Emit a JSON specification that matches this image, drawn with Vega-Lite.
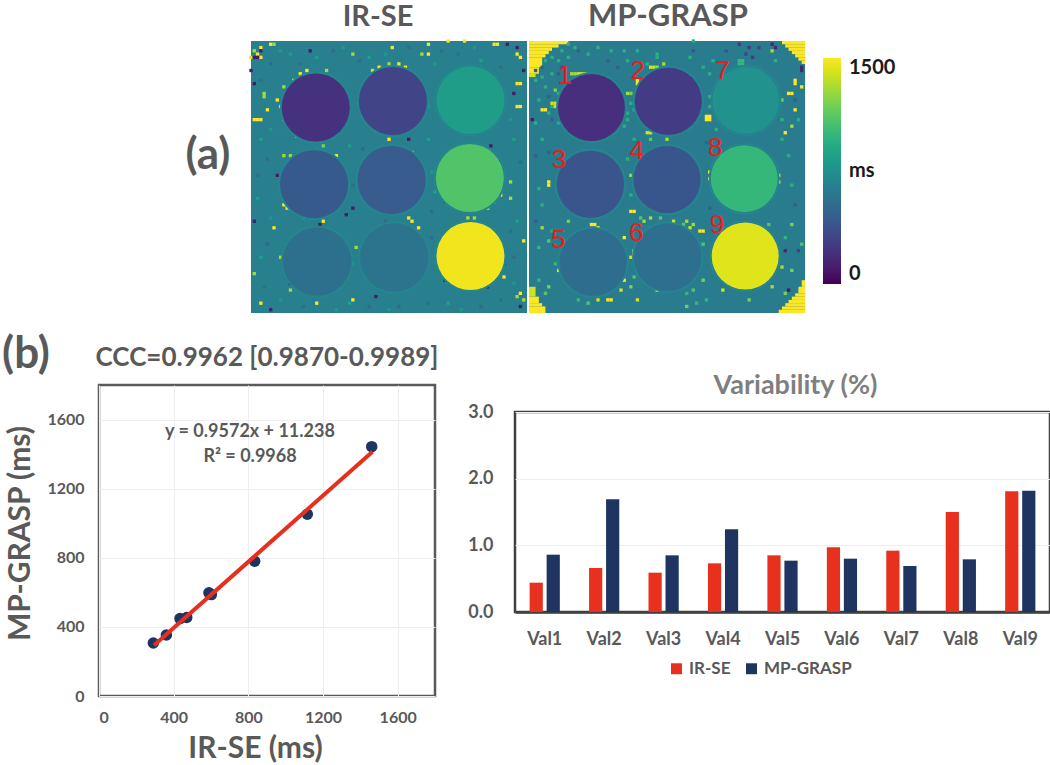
{"$schema":"https://vega.github.io/schema/vega-lite/v6.json","padding":{"left":0,"top":1,"right":0,"bottom":0},"background":"white","config":{"font":"Lato","view":{"stroke":null},"axis":{"labelFontWeight":"bold","labelColor":"#595959","titleColor":"#595959","ticks":false,"titleFontWeight":"bold"},"title":{"font":"Lato","fontWeight":"bold","color":"#595959"}},"spacing":18,"resolve":{"scale":{"color":"independent"}},"vconcat":[{"hconcat":[{"width":148,"height":272,"view":{"fill":"white"},"data":{"values":[{"t":"(a)"}]},"mark":{"type":"text","fontSize":44,"fontWeight":"bold","color":"#595959","dx":35,"dy":-21},"encoding":{"text":{"field":"t"}}},{"width":276,"height":272,"title":{"text":"IR-SE","fontSize":29,"dx":-11,"offset":7},"encoding":{"x":{"field":"c","type":"quantitative","scale":{"domain":[0,84]},"axis":null},"y":{"field":"r","type":"quantitative","scale":{"domain":[0,83],"reverse":true},"axis":null},"color":{"field":"v","type":"quantitative","scale":{"scheme":"viridis","domain":[0,1500]},"legend":null}},"layer":[{"data":{"values":[{"c":0,"c2":84,"r":0,"r2":83,"v":640}]},"mark":"rect","encoding":{"x2":{"field":"c2"},"y2":{"field":"r2"}}},{"data":{"values":[{"c":3,"r":2,"v":1500},{"c":6,"r":1,"v":1500},{"c":2,"r":4,"v":1500},{"c":3,"r":5,"v":1500},{"c":0,"r":5,"v":1400},{"c":7,"r":1,"v":1300},{"c":1,"r":3,"v":1300},{"c":2,"r":5,"v":100},{"c":1,"r":5,"v":100},{"c":3,"r":3,"v":100},{"c":0,"r":9,"v":100},{"c":18,"r":3,"v":100},{"c":1,"r":13,"v":100},{"c":74,"r":1,"v":1500},{"c":75,"r":1,"v":1500},{"c":78,"r":1,"v":100},{"c":81,"r":4,"v":1500},{"c":82,"r":5,"v":1500},{"c":81,"r":13,"v":1500},{"c":82,"r":13,"v":1500},{"c":82,"r":20,"v":1500},{"c":81,"r":20,"v":1500},{"c":81,"r":2,"v":100},{"c":83,"r":9,"v":100},{"c":80,"r":16,"v":100},{"c":1,"r":24,"v":1500},{"c":2,"r":24,"v":1500},{"c":3,"r":24,"v":1500},{"c":4,"r":16,"v":1300},{"c":4,"r":17,"v":1300},{"c":8,"r":18,"v":1500},{"c":9,"r":20,"v":1500},{"c":5,"r":21,"v":1500},{"c":31,"r":4,"v":1300},{"c":43,"r":2,"v":1500},{"c":52,"r":4,"v":1300},{"c":54,"r":1,"v":1500},{"c":54,"r":4,"v":1500},{"c":60,"r":0,"v":1500},{"c":65,"r":0,"v":1500},{"c":15,"r":10,"v":1500},{"c":17,"r":9,"v":1500},{"c":13,"r":12,"v":1400},{"c":10,"r":14,"v":1300},{"c":10,"r":24,"v":1400},{"c":14,"r":29,"v":1500},{"c":17,"r":30,"v":1500},{"c":25,"r":29,"v":1500},{"c":23,"r":9,"v":1300},{"c":37,"r":9,"v":1400},{"c":39,"r":8,"v":1500},{"c":42,"r":7,"v":1300},{"c":45,"r":7,"v":1500},{"c":47,"r":8,"v":1500},{"c":33,"r":19,"v":1500},{"c":34,"r":23,"v":1500},{"c":38,"r":27,"v":1500},{"c":42,"r":30,"v":1500},{"c":48,"r":30,"v":100},{"c":49,"r":34,"v":1500},{"c":10,"r":35,"v":1300},{"c":12,"r":35,"v":1300},{"c":26,"r":35,"v":1500},{"c":22,"r":32,"v":1200},{"c":8,"r":41,"v":100},{"c":9,"r":44,"v":1300},{"c":10,"r":50,"v":1500},{"c":11,"r":51,"v":1500},{"c":13,"r":52,"v":100},{"c":22,"r":55,"v":1500},{"c":21,"r":56,"v":100},{"c":31,"r":51,"v":100},{"c":29,"r":53,"v":100},{"c":28,"r":61,"v":100},{"c":32,"r":63,"v":1300},{"c":48,"r":54,"v":1500},{"c":49,"r":55,"v":1500},{"c":51,"r":57,"v":1500},{"c":51,"r":59,"v":1500},{"c":73,"r":32,"v":100},{"c":75,"r":37,"v":1500},{"c":76,"r":38,"v":1500},{"c":76,"r":44,"v":1500},{"c":76,"r":47,"v":1500},{"c":74,"r":49,"v":1500},{"c":72,"r":51,"v":1500},{"c":79,"r":43,"v":1300},{"c":79,"r":48,"v":1300},{"c":59,"r":49,"v":100},{"c":66,"r":54,"v":1300},{"c":68,"r":54,"v":1300},{"c":83,"r":61,"v":1500},{"c":77,"r":68,"v":100},{"c":77,"r":72,"v":1500},{"c":72,"r":75,"v":100},{"c":59,"r":73,"v":100},{"c":51,"r":72,"v":1500},{"c":51,"r":71,"v":100},{"c":20,"r":80,"v":1500},{"c":31,"r":79,"v":1500},{"c":38,"r":78,"v":100},{"c":12,"r":74,"v":100},{"c":12,"r":76,"v":1300},{"c":9,"r":66,"v":1300},{"c":10,"r":68,"v":1300},{"c":1,"r":71,"v":1300},{"c":3,"r":80,"v":1500},{"c":6,"r":82,"v":100},{"c":82,"r":77,"v":1500},{"c":81,"r":78,"v":1300},{"c":83,"r":79,"v":1300},{"c":82,"r":81,"v":100},{"c":7,"r":57,"v":1500},{"c":1,"r":55,"v":100},{"c":20,"r":5,"v":850},{"c":25,"r":3,"v":520},{"c":36,"r":5,"v":850},{"c":58,"r":3,"v":520},{"c":70,"r":6,"v":850},{"c":12,"r":4,"v":850},{"c":6,"r":7,"v":520},{"c":3,"r":30,"v":850},{"c":5,"r":36,"v":520},{"c":2,"r":48,"v":850},{"c":5,"r":62,"v":520},{"c":3,"r":66,"v":850},{"c":30,"r":32,"v":850},{"c":34,"r":33,"v":520},{"c":54,"r":30,"v":850},{"c":56,"r":46,"v":850},{"c":55,"r":52,"v":520},{"c":80,"r":30,"v":850},{"c":82,"r":37,"v":520},{"c":81,"r":55,"v":850},{"c":80,"r":66,"v":520},{"c":30,"r":80,"v":850},{"c":45,"r":81,"v":520},{"c":60,"r":80,"v":850},{"c":70,"r":81,"v":520},{"c":9,"r":3,"v":820},{"c":15,"r":7,"v":530},{"c":28,"r":2,"v":800},{"c":33,"r":6,"v":540},{"c":41,"r":4,"v":800},{"c":48,"r":2,"v":530},{"c":56,"r":7,"v":820},{"c":63,"r":4,"v":540},{"c":68,"r":2,"v":800},{"c":76,"r":8,"v":530},{"c":79,"r":24,"v":800},{"c":3,"r":12,"v":540},{"c":6,"r":27,"v":800},{"c":2,"r":41,"v":530},{"c":6,"r":54,"v":800},{"c":4,"r":75,"v":530},{"c":9,"r":79,"v":800},{"c":16,"r":81,"v":530},{"c":26,"r":82,"v":800},{"c":36,"r":81,"v":530},{"c":42,"r":82,"v":800},{"c":54,"r":80,"v":530},{"c":64,"r":82,"v":800},{"c":76,"r":79,"v":530},{"c":80,"r":74,"v":800},{"c":79,"r":58,"v":530},{"c":55,"r":40,"v":800},{"c":54,"r":20,"v":800},{"c":31,"r":44,"v":530},{"c":31,"r":68,"v":800},{"c":55,"r":60,"v":530},{"c":20,"r":33,"v":800},{"c":41,"r":55,"v":530},{"c":16,"r":54,"v":800}]},"mark":{"type":"square","size":11,"opacity":1}},{"data":{"values":[{"c":19.7,"r":20.3,"v":720},{"c":43.2,"r":18.3,"v":720},{"c":66.8,"r":18.1,"v":720},{"c":19.2,"r":43.7,"v":720},{"c":42.8,"r":42.4,"v":720},{"c":66.6,"r":41.8,"v":720},{"c":20.1,"r":67.3,"v":720},{"c":43.6,"r":66.1,"v":720},{"c":66.8,"r":65.6,"v":720}]},"mark":{"type":"point","shape":"circle","filled":true,"size":5184,"opacity":1}},{"data":{"values":[{"c":19.7,"r":20.3,"v":640},{"c":43.2,"r":18.3,"v":640},{"c":66.8,"r":18.1,"v":640},{"c":19.2,"r":43.7,"v":640},{"c":42.8,"r":42.4,"v":640},{"c":66.6,"r":41.8,"v":640},{"c":20.1,"r":67.3,"v":640},{"c":43.6,"r":66.1,"v":640},{"c":66.8,"r":65.6,"v":640}]},"mark":{"type":"point","shape":"circle","filled":true,"size":4900,"opacity":1}},{"data":{"values":[{"c":19.7,"r":20.3,"v":210},{"c":43.2,"r":18.3,"v":300},{"c":66.8,"r":18.1,"v":830},{"c":19.2,"r":43.7,"v":420},{"c":42.8,"r":42.4,"v":430},{"c":66.6,"r":41.8,"v":1090},{"c":20.1,"r":67.3,"v":550},{"c":43.6,"r":66.1,"v":570},{"c":66.8,"r":65.6,"v":1470}]},"mark":{"type":"point","shape":"circle","filled":true,"size":4624,"opacity":1}}]},{"width":276,"height":272,"title":{"text":"MP-GRASP","fontSize":31,"dx":1,"offset":6},"encoding":{"x":{"field":"c","type":"quantitative","scale":{"domain":[0,84]},"axis":null},"y":{"field":"r","type":"quantitative","scale":{"domain":[0,83],"reverse":true},"axis":null},"color":{"field":"v","type":"quantitative","scale":{"scheme":"viridis","domain":[0,1500]},"legend":{"type":"gradient","title":null,"orient":"none","legendX":294,"legendY":17,"gradientLength":226,"gradientThickness":18,"gradientStrokeWidth":0,"values":[0,750,1500],"labelExpr":"datum.value==750?'ms':format(datum.value,'d')","labelFontSize":20,"labelFontWeight":"bold","labelColor":"#1a1a1a","labelFont":"Lato","labelOffset":8}}},"layer":[{"data":{"values":[{"c":0,"c2":84,"r":0,"r2":83,"v":620},{"c":0,"c2":12,"r":0,"r2":1,"v":1500},{"c":0,"c2":9,"r":1,"r2":2,"v":1500},{"c":0,"c2":7,"r":2,"r2":3,"v":1500},{"c":0,"c2":6,"r":3,"r2":4,"v":1500},{"c":0,"c2":5,"r":4,"r2":5,"v":1500},{"c":0,"c2":4,"r":5,"r2":8,"v":1500},{"c":0,"c2":3,"r":8,"r2":10,"v":1500},{"c":0,"c2":2,"r":10,"r2":11,"v":1400},{"c":77,"c2":84,"r":0,"r2":1,"v":1500},{"c":78,"c2":84,"r":1,"r2":2,"v":1500},{"c":79,"c2":84,"r":2,"r2":3,"v":1500},{"c":80,"c2":84,"r":3,"r2":4,"v":1500},{"c":81,"c2":84,"r":4,"r2":5,"v":1500},{"c":82,"c2":84,"r":5,"r2":6,"v":1500},{"c":83,"c2":84,"r":6,"r2":7,"v":1500},{"c":76,"c2":84,"r":82,"r2":83,"v":1500},{"c":77,"c2":84,"r":81,"r2":82,"v":1500},{"c":78,"c2":84,"r":80,"r2":81,"v":1500},{"c":79,"c2":84,"r":79,"r2":80,"v":1500},{"c":80,"c2":84,"r":78,"r2":79,"v":1500},{"c":81,"c2":84,"r":77,"r2":78,"v":1500},{"c":82,"c2":84,"r":75,"r2":77,"v":1500},{"c":83,"c2":84,"r":73,"r2":75,"v":1500},{"c":0,"c2":5,"r":81,"r2":83,"v":1500},{"c":0,"c2":4,"r":80,"r2":81,"v":1500},{"c":0,"c2":3,"r":78,"r2":80,"v":1500},{"c":0,"c2":2,"r":75,"r2":78,"v":1400}]},"mark":"rect","encoding":{"x2":{"field":"c2"},"y2":{"field":"r2"}}},{"data":{"values":[{"c":12,"r":1,"v":950},{"c":14,"r":2,"v":950},{"c":10,"r":3,"v":950},{"c":7,"r":5,"v":950},{"c":5,"r":6,"v":950},{"c":9,"r":6,"v":950},{"c":12,"r":5,"v":950},{"c":18,"r":4,"v":950},{"c":21,"r":2,"v":950},{"c":25,"r":3,"v":950},{"c":29,"r":3,"v":950},{"c":33,"r":3,"v":950},{"c":39,"r":4,"v":950},{"c":39,"r":5,"v":950},{"c":36,"r":7,"v":950},{"c":30,"r":6,"v":950},{"c":4,"r":11,"v":950},{"c":7,"r":10,"v":950},{"c":2,"r":12,"v":950},{"c":5,"r":14,"v":950},{"c":9,"r":16,"v":950},{"c":3,"r":18,"v":950},{"c":7,"r":20,"v":950},{"c":6,"r":22,"v":950},{"c":9,"r":25,"v":950},{"c":2,"r":25,"v":950},{"c":30,"r":22,"v":950},{"c":31,"r":19,"v":950},{"c":30,"r":24,"v":950},{"c":32,"r":21,"v":950},{"c":29,"r":26,"v":950},{"c":13,"r":10,"v":1300},{"c":14,"r":10,"v":1300},{"c":15,"r":10,"v":1400},{"c":16,"r":10,"v":1400},{"c":17,"r":10,"v":1400},{"c":8,"r":15,"v":1200},{"c":7,"r":19,"v":1400},{"c":8,"r":19,"v":1400},{"c":8,"r":20,"v":1400},{"c":4,"r":21,"v":1500},{"c":5,"r":21,"v":1500},{"c":30,"r":16,"v":1300},{"c":31,"r":16,"v":1200},{"c":33,"r":12,"v":1500},{"c":37,"r":8,"v":1400},{"c":38,"r":8,"v":1400},{"c":39,"r":8,"v":1300},{"c":41,"r":7,"v":1300},{"c":33,"r":13,"v":1500},{"c":36,"r":28,"v":1400},{"c":37,"r":28,"v":1400},{"c":2,"r":9,"v":450},{"c":9,"r":10,"v":450},{"c":4,"r":8,"v":450},{"c":15,"r":3,"v":450},{"c":24,"r":6,"v":450},{"c":27,"r":8,"v":450},{"c":10,"r":8,"v":450},{"c":6,"r":17,"v":450},{"c":7,"r":24,"v":450},{"c":27,"r":26,"v":450},{"c":23,"r":28,"v":450},{"c":1,"r":24,"v":100},{"c":54,"r":23,"v":1500},{"c":55,"r":23,"v":1500},{"c":54,"r":24,"v":1500},{"c":55,"r":24,"v":1500},{"c":81,"r":12,"v":1500},{"c":81,"r":13,"v":1500},{"c":80,"r":16,"v":1500},{"c":79,"r":16,"v":1500},{"c":77,"r":18,"v":1200},{"c":81,"r":21,"v":1500},{"c":80,"r":26,"v":1300},{"c":78,"r":28,"v":1500},{"c":83,"r":14,"v":1500},{"c":74,"r":3,"v":1300},{"c":64,"r":7,"v":1000},{"c":65,"r":7,"v":1000},{"c":64,"r":6,"v":1000},{"c":65,"r":6,"v":1000},{"c":53,"r":8,"v":950},{"c":55,"r":10,"v":950},{"c":56,"r":6,"v":950},{"c":50,"r":0,"v":950},{"c":49,"r":5,"v":950},{"c":55,"r":17,"v":950},{"c":55,"r":20,"v":950},{"c":57,"r":27,"v":950},{"c":74,"r":24,"v":950},{"c":77,"r":24,"v":950},{"c":82,"r":24,"v":950},{"c":75,"r":6,"v":950},{"c":67,"r":2,"v":250},{"c":64,"r":1,"v":250},{"c":68,"r":5,"v":250},{"c":74,"r":1,"v":150},{"c":75,"r":2,"v":150},{"c":66,"r":4,"v":300},{"c":70,"r":2,"v":300},{"c":83,"r":8,"v":150},{"c":83,"r":9,"v":150},{"c":60,"r":3,"v":400},{"c":50,"r":3,"v":400},{"c":51,"r":13,"v":450},{"c":81,"r":18,"v":450},{"c":20,"r":56,"v":1500},{"c":21,"r":57,"v":1500},{"c":19,"r":56,"v":1500},{"c":29,"r":60,"v":1500},{"c":32,"r":65,"v":1500},{"c":32,"r":64,"v":1500},{"c":31,"r":66,"v":1400},{"c":4,"r":57,"v":1300},{"c":12,"r":55,"v":1200},{"c":9,"r":70,"v":1400},{"c":29,"r":73,"v":1500},{"c":24,"r":79,"v":1500},{"c":25,"r":79,"v":1500},{"c":21,"r":79,"v":1400},{"c":3,"r":73,"v":1000},{"c":6,"r":75,"v":1200},{"c":5,"r":77,"v":1100},{"c":28,"r":76,"v":1400},{"c":31,"r":75,"v":1200},{"c":32,"r":72,"v":1100},{"c":33,"r":79,"v":1400},{"c":39,"r":76,"v":1400},{"c":18,"r":80,"v":1100},{"c":40,"r":54,"v":1100},{"c":35,"r":55,"v":1300},{"c":34,"r":54,"v":1100},{"c":37,"r":54,"v":1300},{"c":3,"r":63,"v":1000},{"c":6,"r":61,"v":1100},{"c":8,"r":68,"v":1000},{"c":7,"r":58,"v":950},{"c":15,"r":79,"v":1000},{"c":53,"r":58,"v":1500},{"c":52,"r":58,"v":1500},{"c":44,"r":55,"v":1400},{"c":50,"r":56,"v":1300},{"c":49,"r":57,"v":1400},{"c":47,"r":56,"v":1100},{"c":48,"r":55,"v":1300},{"c":80,"r":56,"v":1200},{"c":77,"r":69,"v":1300},{"c":80,"r":70,"v":1200},{"c":74,"r":75,"v":1300},{"c":59,"r":76,"v":1400},{"c":53,"r":73,"v":1200},{"c":53,"r":62,"v":1100},{"c":50,"r":76,"v":1100},{"c":48,"r":77,"v":1000},{"c":67,"r":79,"v":1200},{"c":78,"r":77,"v":1200},{"c":79,"r":76,"v":100},{"c":54,"r":79,"v":1000},{"c":51,"r":80,"v":1000},{"c":48,"r":81,"v":1200},{"c":73,"r":56,"v":1100},{"c":78,"r":60,"v":1000},{"c":83,"r":62,"v":1100},{"c":78,"r":64,"v":150},{"c":82,"r":64,"v":300},{"c":6,"r":44,"v":1500},{"c":6,"r":43,"v":1500},{"c":55,"r":40,"v":1500},{"c":55,"r":42,"v":1500},{"c":76,"r":41,"v":1500},{"c":76,"r":43,"v":1500},{"c":31,"r":52,"v":1500},{"c":32,"r":52,"v":1500},{"c":31,"r":41,"v":1300},{"c":42,"r":30,"v":1300},{"c":37,"r":30,"v":1100},{"c":32,"r":30,"v":950},{"c":4,"r":30,"v":950},{"c":2,"r":35,"v":450},{"c":4,"r":50,"v":950},{"c":2,"r":55,"v":450},{"c":79,"r":35,"v":950},{"c":77,"r":30,"v":950},{"c":81,"r":50,"v":450},{"c":80,"r":44,"v":950},{"c":54,"r":31,"v":450},{"c":55,"r":51,"v":450},{"c":6,"r":34,"v":450},{"c":3,"r":45,"v":950},{"c":30,"r":36,"v":950},{"c":31,"r":47,"v":950}]},"mark":{"type":"square","size":11,"opacity":1}},{"data":{"values":[{"c":19,"r":20.3,"v":720},{"c":42.4,"r":18.4,"v":720},{"c":66,"r":18.1,"v":720},{"c":18.7,"r":43.7,"v":720},{"c":42,"r":42.3,"v":720},{"c":65.5,"r":42,"v":720},{"c":19.5,"r":67.5,"v":720},{"c":42.2,"r":66,"v":720},{"c":65.8,"r":65.6,"v":720}]},"mark":{"type":"point","shape":"circle","filled":true,"size":5041,"opacity":1}},{"data":{"values":[{"c":19,"r":20.3,"v":620},{"c":42.4,"r":18.4,"v":620},{"c":66,"r":18.1,"v":620},{"c":18.7,"r":43.7,"v":620},{"c":42,"r":42.3,"v":620},{"c":65.5,"r":42,"v":620},{"c":19.5,"r":67.5,"v":620},{"c":42.2,"r":66,"v":620},{"c":65.8,"r":65.6,"v":620}]},"mark":{"type":"point","shape":"circle","filled":true,"size":4761,"opacity":1}},{"data":{"values":[{"c":19,"r":20.3,"v":200},{"c":42.4,"r":18.4,"v":260},{"c":66,"r":18.1,"v":760},{"c":18.7,"r":43.7,"v":390},{"c":42,"r":42.3,"v":400},{"c":65.5,"r":42,"v":1000},{"c":19.5,"r":67.5,"v":530},{"c":42.2,"r":66,"v":540},{"c":65.8,"r":65.6,"v":1430}]},"mark":{"type":"point","shape":"circle","filled":true,"size":4489,"opacity":1}},{"data":{"values":[{"c":10.9,"r":10.6,"t":"1"},{"c":33.1,"r":9.1,"t":"2"},{"c":58.9,"r":9.1,"t":"7"},{"c":9.1,"r":36.3,"t":"3"},{"c":32.8,"r":33.7,"t":"4"},{"c":56.7,"r":32.5,"t":"8"},{"c":8.9,"r":60.6,"t":"5"},{"c":32.6,"r":58.6,"t":"6"},{"c":57.2,"r":56,"t":"9"}]},"mark":{"type":"text","font":"Liberation Sans","fontSize":26,"color":"#ee1c1c"},"encoding":{"text":{"field":"t"},"color":{"value":"#ee1c1c"}}}]}],"spacing":2,"resolve":{"scale":{"color":"independent"}}},{"hconcat":[{"width":336,"height":311,"view":{"stroke":"#595959","strokeWidth":2.5},"encoding":{"x":{"field":"a","type":"quantitative","scale":{"domain":[0,1800]},"axis":{"title":"IR-SE (ms)","values":[0,400,800,1200,1600],"format":"d","labelFontSize":16,"labelPadding":13,"titleFontSize":30,"titlePadding":8,"titleX":156,"grid":true,"gridColor":"#eeeeee","domain":false}},"y":{"field":"b","type":"quantitative","scale":{"domain":[0,1800]},"axis":{"title":"MP-GRASP (ms)","values":[0,400,800,1200,1600],"format":"d","labelFontSize":16,"labelPadding":15,"titleFontSize":30,"titlePadding":11,"titleY":148,"grid":true,"gridColor":"#eeeeee","domain":false}}},"layer":[{"data":{"values":[{"a":291,"b":307},{"a":361,"b":353},{"a":434,"b":448},{"a":470,"b":454},{"a":589,"b":597},{"a":602,"b":587},{"a":834,"b":780},{"a":1116,"b":1052},{"a":1461,"b":1443}]},"mark":{"type":"point","shape":"circle","filled":true,"size":132,"color":"#1f3460","opacity":1}},{"data":{"values":[{"a":295,"b":293.6},{"a":1465,"b":1413.6}]},"mark":{"type":"line","color":"#e5301f","strokeWidth":4}},{"data":{"values":[{"a":809,"b":1528,"t":"y = 0.9572x + 11.238"},{"a":809,"b":1383,"t":"R² = 0.9968"}]},"mark":{"type":"text","fontSize":18,"fontWeight":"bold","color":"#595959"},"encoding":{"text":{"field":"t"}}},{"data":{"values":[{"t":"(b)"}]},"mark":{"type":"text","fontSize":44,"fontWeight":"bold","color":"#595959"},"encoding":{"text":{"field":"t"},"x":{"value":-73},"y":{"value":-30}}},{"data":{"values":[{"t":"CCC=0.9962 [0.9870-0.9989]"}]},"mark":{"type":"text","fontSize":26,"fontWeight":"bold","color":"#595959"},"encoding":{"text":{"field":"t"},"x":{"value":168},"y":{"value":-27}}}]},{"vconcat":[{"width":535,"height":13,"view":{"fill":"white"},"data":{"values":[{"t":"Variability (%)"}]},"mark":{"type":"text","fontSize":27,"fontWeight":"bold","color":"#7f7f7f","dx":13,"dy":-6},"encoding":{"text":{"field":"t"}}},{"width":535,"height":200,"view":{"stroke":"#404040","strokeWidth":2.5},"data":{"values":[{"k":"Val1","s":"IR-SE","p":0.44},{"k":"Val1","s":"MP-GRASP","p":0.86},{"k":"Val2","s":"IR-SE","p":0.66},{"k":"Val2","s":"MP-GRASP","p":1.69},{"k":"Val3","s":"IR-SE","p":0.59},{"k":"Val3","s":"MP-GRASP","p":0.85},{"k":"Val4","s":"IR-SE","p":0.73},{"k":"Val4","s":"MP-GRASP","p":1.24},{"k":"Val5","s":"IR-SE","p":0.85},{"k":"Val5","s":"MP-GRASP","p":0.77},{"k":"Val6","s":"IR-SE","p":0.97},{"k":"Val6","s":"MP-GRASP","p":0.8},{"k":"Val7","s":"IR-SE","p":0.92},{"k":"Val7","s":"MP-GRASP","p":0.69},{"k":"Val8","s":"IR-SE","p":1.5},{"k":"Val8","s":"MP-GRASP","p":0.79},{"k":"Val9","s":"IR-SE","p":1.81},{"k":"Val9","s":"MP-GRASP","p":1.82}]},"mark":"bar","encoding":{"x":{"field":"k","type":"nominal","scale":{"padding":0},"axis":{"title":null,"labelAngle":0,"labelFontSize":18,"labelPadding":18,"domainColor":"#404040","domainWidth":2.5}},"xOffset":{"field":"s","type":"nominal","scale":{"paddingInner":0.224,"paddingOuter":0.859}},"y":{"field":"p","type":"quantitative","scale":{"domain":[0,3]},"axis":{"title":null,"values":[0,1,2,3],"format":".1f","labelFontSize":18,"labelPadding":22,"grid":true,"gridColor":"#eeeeee","domain":false}},"color":{"field":"s","type":"nominal","scale":{"domain":["IR-SE","MP-GRASP"],"range":["#e8301f","#1f3460"]},"legend":{"title":null,"orient":"none","direction":"horizontal","legendX":153,"legendY":275,"symbolType":"square","symbolSize":120,"symbolStrokeWidth":0,"labelFontSize":17,"labelFontWeight":"bold","labelColor":"#595959","labelFont":"Lato","columns":2,"columnPadding":12}}}}],"spacing":2}],"spacing":26,"resolve":{"scale":{"color":"independent"}}}]}
